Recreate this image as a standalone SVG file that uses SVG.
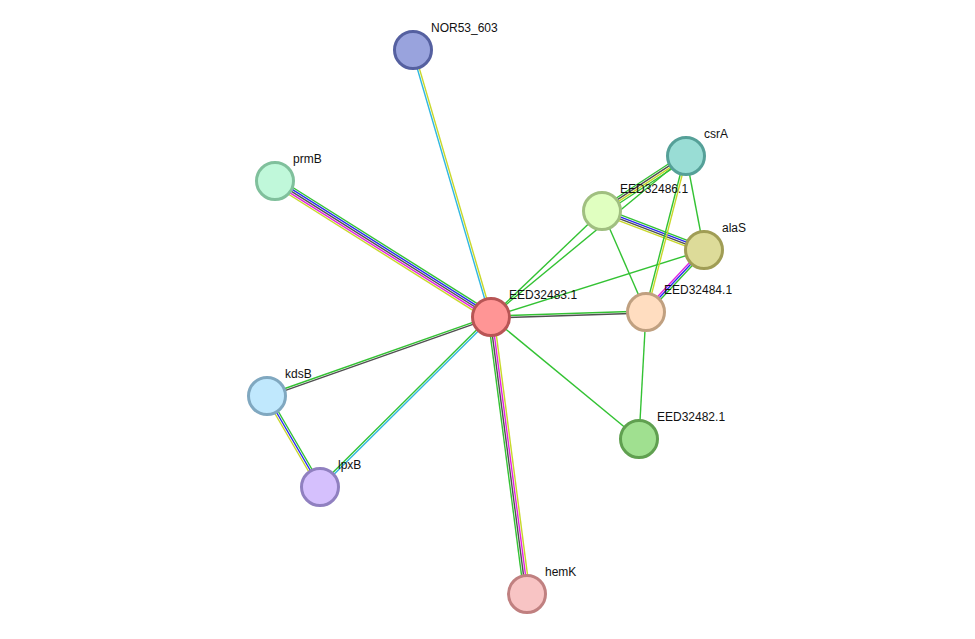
<svg xmlns="http://www.w3.org/2000/svg" width="975" height="639" viewBox="0 0 975 639">
<style>
line{stroke-width:1.4;fill:none}
.g{stroke:#33c233}.k{stroke:#505050}.y{stroke:#c8d82a}.m{stroke:#e020e0}.b{stroke:#2a2af0}.c{stroke:#30b8e0}
circle{stroke-width:3}
text{font-family:"Liberation Sans",Arial,sans-serif;font-size:12px;fill:#111}
</style>
<rect width="975" height="639" fill="#fff"/>
<g id="connectors">
<g transform="translate(491,317) rotate(-106.3)"><line class="c" x1="0" y1="-1" x2="278" y2="-1"/><line class="y" x1="0" y1="1" x2="278" y2="1"/></g>
<g transform="translate(491,317) rotate(-147.8)"><line class="y" x1="0" y1="-4" x2="255" y2="-4"/><line class="m" x1="0" y1="-2" x2="255" y2="-2"/><line class="k" x1="0" y1="0" x2="255" y2="0"/><line class="b" x1="0" y1="2" x2="255" y2="2"/><line class="g" x1="0" y1="4" x2="255" y2="4"/></g>
<g transform="translate(491,317) rotate(160.6)"><line class="k" x1="0" y1="-1" x2="237" y2="-1"/><line class="g" x1="0" y1="1" x2="237" y2="1"/></g>
<g transform="translate(491,317) rotate(135.2)"><line class="c" x1="0" y1="-1" x2="241" y2="-1"/><line class="g" x1="0" y1="1" x2="241" y2="1"/></g>
<g transform="translate(491,317) rotate(82.6)"><line class="y" x1="0" y1="-3" x2="279" y2="-3"/><line class="m" x1="0" y1="-1" x2="279" y2="-1"/><line class="k" x1="0" y1="1" x2="279" y2="1"/><line class="g" x1="0" y1="3" x2="279" y2="3"/></g>
<g transform="translate(491,317) rotate(-1.85)"><line class="g" x1="0" y1="-1" x2="155" y2="-1"/><line class="k" x1="0" y1="1" x2="155" y2="1"/></g>
<line class="g" x1="491" y1="317" x2="639" y2="439"/>
<line class="g" x1="491" y1="317" x2="602" y2="211"/>
<line class="g" x1="491" y1="317" x2="686" y2="156"/>
<line class="g" x1="491" y1="317" x2="704" y2="250"/>
<g transform="translate(602,211) rotate(-33.2)"><line class="g" x1="0" y1="-3" x2="100" y2="-3"/><line class="k" x1="0" y1="-1" x2="100" y2="-1"/><line class="y" x1="0" y1="1" x2="100" y2="1"/><line class="g" x1="0" y1="3" x2="100" y2="3"/></g>
<g transform="translate(602,211) rotate(20.9)"><line class="g" x1="0" y1="-3" x2="109" y2="-3"/><line class="b" x1="0" y1="-1" x2="109" y2="-1"/><line class="k" x1="0" y1="1" x2="109" y2="1"/><line class="y" x1="0" y1="3" x2="109" y2="3"/></g>
<line class="g" x1="602" y1="211" x2="646" y2="312"/>
<line class="g" x1="686" y1="156" x2="704" y2="250"/>
<g transform="translate(686,156) rotate(104.4)"><line class="y" x1="0" y1="-1" x2="161" y2="-1"/><line class="g" x1="0" y1="1" x2="161" y2="1"/></g>
<g transform="translate(704,250) rotate(133.1)"><line class="g" x1="0" y1="-2" x2="85" y2="-2"/><line class="b" x1="0" y1="0" x2="85" y2="0"/><line class="m" x1="0" y1="2" x2="85" y2="2"/></g>
<line class="g" x1="646" y1="312" x2="639" y2="439"/>
<g transform="translate(267,396) rotate(59.8)"><line class="g" x1="0" y1="-2" x2="105" y2="-2"/><line class="b" x1="0" y1="0" x2="105" y2="0"/><line class="y" x1="0" y1="2" x2="105" y2="2"/></g>
</g>
<g id="n-NOR53_603"><circle cx="413" cy="50" r="18.5" fill="#99a3dd" stroke="#5560a0"/><text x="431" y="32">NOR53_603</text></g>
<g id="n-prmB"><circle cx="275" cy="181" r="18.5" fill="#c0f8da" stroke="#80c09c"/><text x="293" y="163">prmB</text></g>
<g id="n-csrA"><circle cx="686" cy="156" r="18.5" fill="#99ddd5" stroke="#55a098"/><text x="704" y="138">csrA</text></g>
<g id="n-EED32486.1"><circle cx="602" cy="211" r="18.5" fill="#e0ffc0" stroke="#a0bf80"/><text x="620" y="193">EED32486.1</text></g>
<g id="n-alaS"><circle cx="704" cy="250" r="18.5" fill="#dddb99" stroke="#a09d55"/><text x="722" y="232">alaS</text></g>
<g id="n-EED32484.1"><circle cx="646" cy="312" r="18.5" fill="#ffddc0" stroke="#c0a080"/><text x="664" y="294">EED32484.1</text></g>
<g id="n-EED32483.1"><circle cx="491" cy="317" r="18.5" fill="#ff9595" stroke="#b85555"/><text x="509" y="299">EED32483.1</text></g>
<g id="n-EED32482.1"><circle cx="639" cy="439" r="18.5" fill="#a0e090" stroke="#60a050"/><text x="657" y="421">EED32482.1</text></g>
<g id="n-kdsB"><circle cx="267" cy="396" r="18.5" fill="#c0e8fd" stroke="#80a8c0"/><text x="285" y="378">kdsB</text></g>
<g id="n-lpxB"><circle cx="320" cy="487" r="18.5" fill="#d5c0fd" stroke="#9080c0"/><text x="338" y="469">lpxB</text></g>
<g id="n-hemK"><circle cx="527" cy="594" r="18.5" fill="#f8c4c4" stroke="#c08080"/><text x="545" y="576">hemK</text></g>
</svg>
